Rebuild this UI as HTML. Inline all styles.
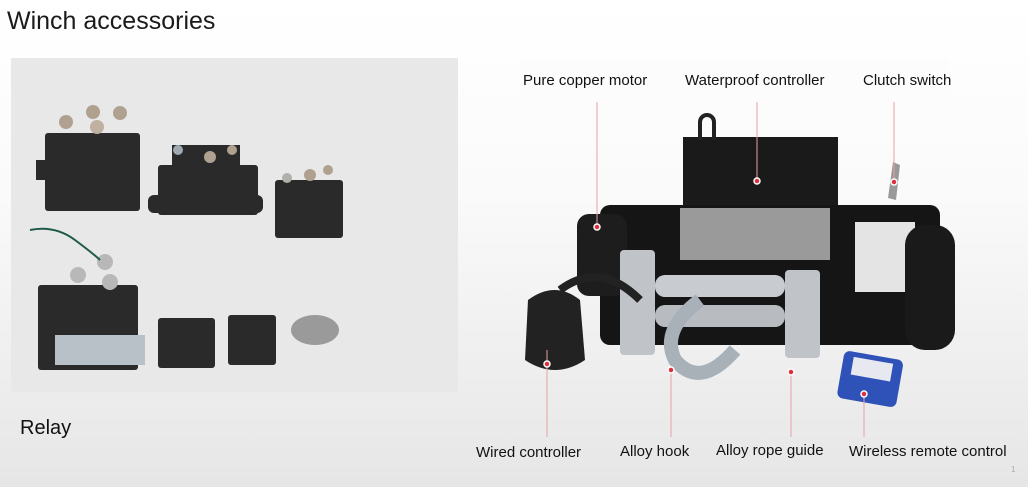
<!DOCTYPE html>
<html><head><meta charset="utf-8"><style>
html,body{margin:0;padding:0}
body{width:1028px;height:487px;overflow:hidden;position:relative;background:linear-gradient(#ffffff 0%,#fafafa 40%,#e6e6e6 100%);font-family:"Liberation Sans",sans-serif}
.t{position:absolute;white-space:nowrap;color:#111}
</style></head><body>
<div class="t" style="left:7px;top:7px;font-size:25px;color:#1a1a1a">Winch accessories</div>
<div style="position:absolute;left:11px;top:58px;width:447px;height:334px;background:#e8e8e8"></div>
<div class="t" style="left:20px;top:417px;font-size:20px">Relay</div>
<div style="position:absolute;left:520px;top:60px;width:427px;height:38px;background:#fcfcfc"></div>
<svg width="1028" height="487" style="position:absolute;left:0;top:0">
<!-- relays -->
<g fill="#2a2a2a">
<rect x="45" y="133" width="95" height="78" rx="3"/><rect x="36" y="160" width="14" height="20"/>
<circle cx="66" cy="122" r="7" fill="#b0a090"/><circle cx="93" cy="112" r="7" fill="#b0a090"/><circle cx="120" cy="113" r="7" fill="#b0a090"/><circle cx="97" cy="127" r="7" fill="#c0b0a0"/>
<rect x="158" y="165" width="100" height="50" rx="3"/><rect x="148" y="195" width="115" height="18" rx="6"/><rect x="172" y="145" width="68" height="25"/>
<circle cx="178" cy="150" r="5" fill="#a0a8b0"/><circle cx="210" cy="157" r="6" fill="#b0a090"/><circle cx="232" cy="150" r="5" fill="#b0a090"/>
<rect x="275" y="180" width="68" height="58" rx="3"/><circle cx="287" cy="178" r="5" fill="#b0b0a8"/><circle cx="310" cy="175" r="6" fill="#b0a090"/><circle cx="328" cy="170" r="5" fill="#b0a090"/>
<rect x="38" y="285" width="100" height="85" rx="3"/><rect x="55" y="335" width="90" height="30" fill="#b8c0c8"/>
<circle cx="78" cy="275" r="8" fill="#b8b8b8"/><circle cx="105" cy="262" r="8" fill="#b8b8b8"/><circle cx="110" cy="282" r="8" fill="#b8b8b8"/>
<rect x="158" y="318" width="57" height="50" rx="3"/><rect x="228" y="315" width="48" height="50" rx="3"/>
<ellipse cx="315" cy="330" rx="24" ry="15" fill="#9a9a9a"/>
</g>
<path d="M30 230 Q55 225 75 240 T100 260" stroke="#1f5a4a" stroke-width="2" fill="none"/>
<!-- winch -->
<g>
<rect x="683" y="137" width="155" height="84" fill="#1a1a1a"/>
<path d="M700 140 V122 a7 7 0 0 1 14 0 V140" stroke="#222" stroke-width="4" fill="none"/>
<rect x="600" y="205" width="340" height="140" rx="10" fill="#151515"/>
<rect x="577" y="214" width="50" height="82" rx="12" fill="#1d1d1d"/>
<rect x="680" y="208" width="150" height="52" fill="#9a9a9a"/>
<rect x="855" y="222" width="60" height="70" fill="#e4e4e4"/>
<rect x="905" y="225" width="50" height="125" rx="20" fill="#1a1a1a"/>
<rect x="655" y="275" width="130" height="22" rx="10" fill="#c8ccd0"/>
<rect x="655" y="305" width="130" height="22" rx="10" fill="#b8bcc0"/>
<rect x="620" y="250" width="35" height="105" rx="4" fill="#c0c4c8"/>
<rect x="785" y="270" width="35" height="88" rx="4" fill="#c0c4c8"/>
<path d="M700 300 Q660 330 675 360 Q700 390 735 350" stroke="#a8b0b8" stroke-width="14" fill="none"/>
<path d="M888 198 L893 162 L900 165 L896 200 Z" fill="#999"/>
<path d="M528 300 Q555 280 580 300 L585 360 Q555 380 525 360 Z" fill="#222"/>
<path d="M560 290 Q600 260 640 300" stroke="#222" stroke-width="8" fill="none"/>
<rect x="840" y="355" width="60" height="48" rx="6" fill="#2f52b8" transform="rotate(10 870 380)"/>
<rect x="850" y="360" width="40" height="18" fill="#e8e8f0" transform="rotate(10 870 380)"/>
</g>
<g stroke="#e8a0a8" stroke-width="1">
<line x1="597" y1="102" x2="597" y2="225"/><line x1="757" y1="102" x2="757" y2="180"/><line x1="894" y1="102" x2="894" y2="180"/>
<line x1="547" y1="350" x2="547" y2="437"/><line x1="671" y1="368" x2="671" y2="437"/><line x1="791" y1="370" x2="791" y2="437"/><line x1="864" y1="395" x2="864" y2="437"/>
</g>
<g fill="#e03040" stroke="#fff" stroke-width="1.5">
<circle cx="597" cy="227" r="3"/><circle cx="757" cy="181" r="3"/><circle cx="894" cy="182" r="3"/>
<circle cx="547" cy="364" r="3"/><circle cx="671" cy="370" r="3"/><circle cx="791" cy="372" r="3"/><circle cx="864" cy="394" r="3"/>
</g>
</svg>
<div class="t" style="left:523px;top:72px;font-size:15px">Pure copper motor</div>
<div class="t" style="left:685px;top:72px;font-size:15px">Waterproof controller</div>
<div class="t" style="left:863px;top:72px;font-size:15px">Clutch switch</div>
<div class="t" style="left:476px;top:444px;font-size:15px">Wired controller</div>
<div class="t" style="left:620px;top:443px;font-size:15px">Alloy hook</div>
<div class="t" style="left:716px;top:442px;font-size:15px">Alloy rope guide</div>
<div class="t" style="left:849px;top:443px;font-size:15px">Wireless remote control</div>
<div class="t" style="left:1011px;top:465px;font-size:8px;color:#aaa">1</div>
</body></html>
